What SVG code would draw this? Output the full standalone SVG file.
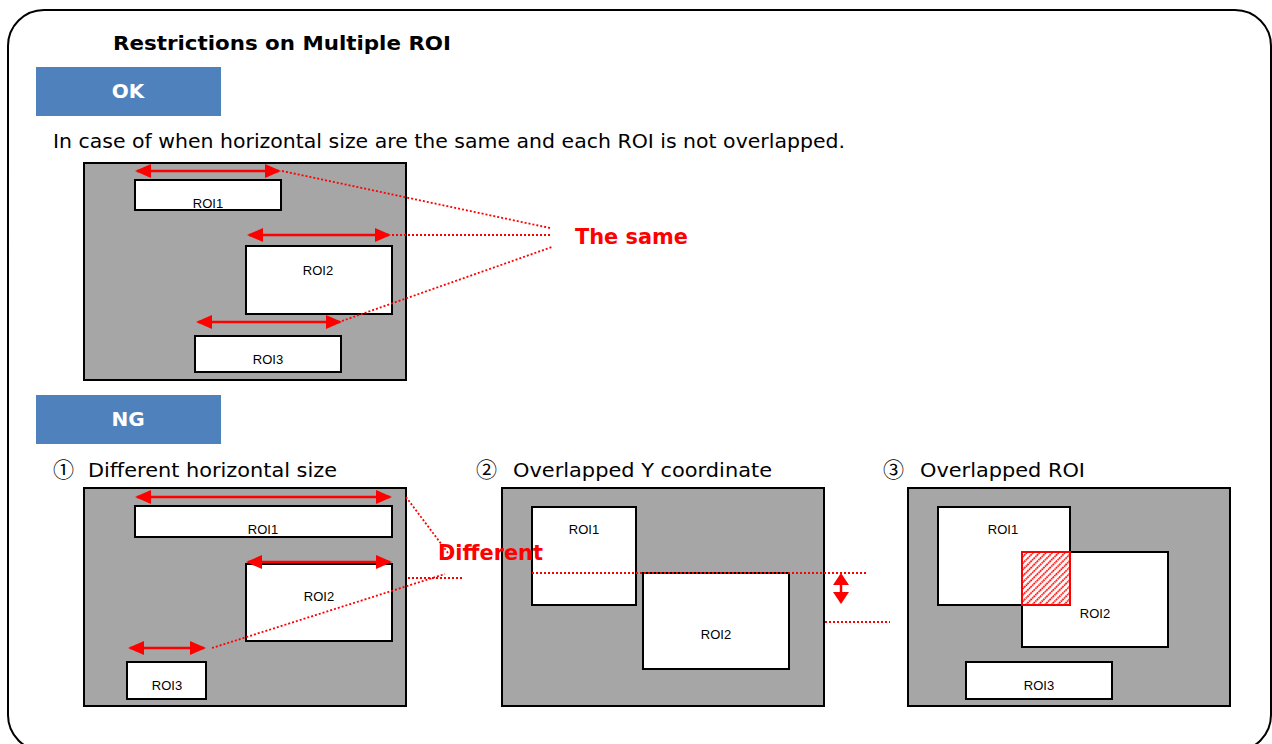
<svg xmlns="http://www.w3.org/2000/svg" width="1272" height="744" viewBox="0 0 1272 744">
<style>
.frame{fill:#fff;stroke:#000;stroke-width:2}
.tab{fill:#4f81bd}
.tabtxt{font-family:"DejaVu Sans",Verdana,sans-serif;font-weight:bold;font-size:20px;fill:#fff;text-anchor:middle}
.title{font-family:"DejaVu Sans",Verdana,sans-serif;font-weight:bold;font-size:20px;fill:#000}
.txt{font-family:"DejaVu Sans","Noto Sans CJK JP",sans-serif;font-size:20px;fill:#000}
.num{font-family:"Noto Sans CJK JP","DejaVu Sans",sans-serif;font-size:21px}
.red{font-family:"DejaVu Sans",Verdana,sans-serif;font-weight:bold;font-size:21px;fill:#ff0000}
.img{fill:#a6a6a6;stroke:#000;stroke-width:2}
.roi{fill:#fff;stroke:#000;stroke-width:2}
.lbl{font-family:"Liberation Sans",Arial,sans-serif;font-size:13px;fill:#000;text-anchor:middle}
.arr{stroke:#ff0000;stroke-width:2.5;fill:none;marker-start:url(#ah);marker-end:url(#ah)}
.varr{stroke:#ff0000;stroke-width:2.5;fill:none;marker-start:url(#ahs);marker-end:url(#ahs)}
.dot{stroke:#ff0000;stroke-width:1.8;stroke-dasharray:2 2;fill:none}
</style>
<defs>
<marker id="ah" markerUnits="userSpaceOnUse" markerWidth="16" markerHeight="14" refX="14" refY="7" orient="auto-start-reverse">
<path d="M0,0 L16,7 L0,14 z" fill="#ff0000"/>
</marker>
<marker id="ahs" markerUnits="userSpaceOnUse" markerWidth="12" markerHeight="16" refX="10" refY="8" orient="auto-start-reverse">
<path d="M0,0 L12,8 L0,16 z" fill="#ff0000"/>
</marker>
<pattern id="hatch" patternUnits="userSpaceOnUse" width="4.5" height="4.5" patternTransform="rotate(45)">
<line x1="1" y1="0" x2="1" y2="4.5" stroke="#ff0000" stroke-width="1.8" stroke-dasharray="1.6 0.6"/>
</pattern>
</defs>

<rect class="frame" x="8" y="10" width="1263" height="741" rx="36" ry="36"/>

<text class="title" x="113" y="50" textLength="338" lengthAdjust="spacingAndGlyphs">Restrictions on Multiple ROI</text>

<g id="tab-ok">
<rect class="tab" x="36" y="67" width="185" height="49"/>
<text class="tabtxt" x="128" y="98">OK</text>
</g>

<text class="txt" x="53" y="148" textLength="792" lengthAdjust="spacingAndGlyphs">In case of when horizontal size are the same and each ROI is not overlapped.</text>

<g id="ok-image">
<rect class="img" x="84" y="163" width="322" height="217"/>
<g id="ok-roi1"><rect class="roi" x="135" y="180" width="146" height="30"/><text class="lbl" x="208" y="208">ROI1</text></g>
<g id="ok-roi2"><rect class="roi" x="246" y="246" width="146" height="68"/><text class="lbl" x="318" y="275">ROI2</text></g>
<g id="ok-roi3"><rect class="roi" x="195" y="336" width="146" height="36"/><text class="lbl" x="268" y="364">ROI3</text></g>
</g>

<text class="red" x="575" y="244" textLength="113" lengthAdjust="spacingAndGlyphs">The same</text>

<g id="tab-ng">
<rect class="tab" x="36" y="395" width="185" height="49"/>
<text class="tabtxt" x="128" y="426">NG</text>
</g>

<text class="txt" x="53" y="477"><tspan class="num">①</tspan><tspan x="88" textLength="249" lengthAdjust="spacingAndGlyphs">Different horizontal size</tspan></text>
<text class="txt" x="476" y="477"><tspan class="num">②</tspan><tspan x="513" textLength="259" lengthAdjust="spacingAndGlyphs">Overlapped Y coordinate</tspan></text>
<text class="txt" x="883" y="477"><tspan class="num">③</tspan><tspan x="920" textLength="165" lengthAdjust="spacingAndGlyphs">Overlapped ROI</tspan></text>

<g id="ng1-image">
<rect class="img" x="84" y="488" width="322" height="218"/>
<g id="ng1-roi1"><rect class="roi" x="135" y="506" width="257" height="31"/><text class="lbl" x="263" y="534">ROI1</text></g>
<g id="ng1-roi2"><rect class="roi" x="246" y="564" width="146" height="77"/><text class="lbl" x="319" y="601">ROI2</text></g>
<g id="ng1-roi3"><rect class="roi" x="127" y="662" width="79" height="37"/><text class="lbl" x="167" y="690">ROI3</text></g>
</g>

<g id="ng2-image">
<rect class="img" x="502" y="488" width="322" height="218"/>
<g id="ng2-roi1"><rect class="roi" x="532" y="507" width="104" height="98"/><text class="lbl" x="584" y="534">ROI1</text></g>
<g id="ng2-roi2"><rect class="roi" x="643" y="573" width="146" height="96"/><text class="lbl" x="716" y="639">ROI2</text></g>
</g>

<g id="ng3-image">
<rect class="img" x="908" y="488" width="322" height="218"/>
<g id="ng3-roi1"><rect class="roi" x="938" y="507" width="132" height="98"/><text class="lbl" x="1003" y="534">ROI1</text></g>
<g id="ng3-roi2"><rect class="roi" x="1022" y="552" width="146" height="95"/><text class="lbl" x="1095" y="618">ROI2</text></g>
<g id="ng3-roi3"><rect class="roi" x="966" y="662" width="146" height="37"/><text class="lbl" x="1039" y="690">ROI3</text></g>
<g id="ng3-overlap">
<rect x="1022" y="552" width="48" height="53" fill="#fff"/>
<rect x="1022" y="552" width="48" height="53" fill="url(#hatch)" stroke="#ff0000" stroke-width="2"/>
</g>
</g>

<g id="connectors">
<line class="arr" x1="137" y1="171" x2="279" y2="171"/>
<line class="arr" x1="249" y1="235" x2="389" y2="235"/>
<line class="arr" x1="198" y1="322" x2="340" y2="322"/>
<line class="dot" x1="282" y1="171" x2="550" y2="228"/>
<line class="dot" x1="392" y1="235" x2="551" y2="235"/>
<line class="dot" x1="342" y1="321" x2="552" y2="247"/>

<line class="arr" x1="137" y1="497" x2="390" y2="497"/>
<line class="arr" x1="248" y1="562" x2="390" y2="562"/>
<line class="arr" x1="130" y1="648" x2="204" y2="648"/>
<line class="dot" x1="406" y1="497" x2="448" y2="553"/>
<line class="dot" x1="212" y1="648" x2="445" y2="574"/>
<line class="dot" x1="408" y1="578" x2="462" y2="578"/>

<line class="dot" x1="532" y1="573" x2="867" y2="573"/>
<line class="dot" x1="825" y1="622" x2="890" y2="622"/>
<line class="varr" x1="841" y1="575" x2="841" y2="602"/>
</g>

<text class="red" x="438" y="560" textLength="105" lengthAdjust="spacingAndGlyphs">Different</text>
</svg>
